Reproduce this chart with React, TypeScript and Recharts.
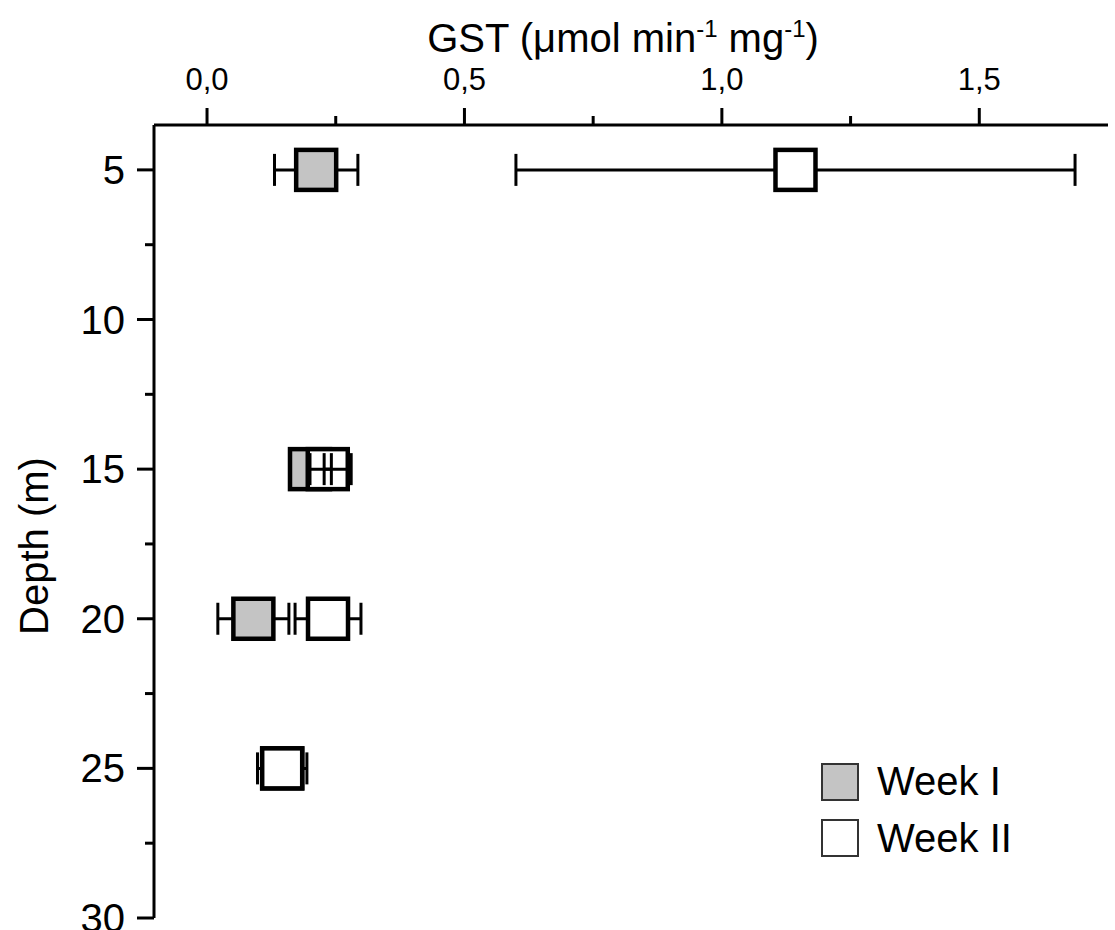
import React from "react";
import { ScatterChart, Scatter, XAxis, YAxis, ErrorBar } from "recharts";

// ---- data ----
const depths = [5, 15, 20, 25];
const week1Values = [0.212, 0.2, 0.09, 0.146];
const week1Errors = [0.081, 0.03, 0.069, 0.03];
const week2Values = [1.143, 0.2345, 0.235, 0.146];
const week2Errors = [0.543, 0.007, 0.064, 0.048];

// error bars of the 15 m pair that show through the Week II box
const overlayValues = [0.2, 0.2345];
const overlayErrors: (number | number[])[] = [[0, 0.08], 0.007];
const overlayDepths = [15, 15];

const xMajorTicks = [0, 0.5, 1, 1.5];
const xMinorTicks = [0.25, 0.75, 1.25];
const xTickLabels = ["0,0", "0,5", "1,0", "1,5"];
const yMajorTicks = [5, 10, 15, 20, 25, 30];
const yMinorTicks = [7.5, 12.5, 17.5, 22.5, 27.5];
const yTickLabels = ["5", "10", "15", "20", "25", "30"];

const seriesNames = ["Week I", "Week II"];
const seriesFills = ["#c4c4c4", "#ffffff"];

const week1Data = depths.map((d, i) => ({ y: d, x: week1Values[i], err: week1Errors[i] }));
const week2Data = depths.map((d, i) => ({ y: d, x: week2Values[i], err: week2Errors[i] }));
const overlayData = overlayDepths.map((d, i) => ({ y: d, x: overlayValues[i], err: overlayErrors[i] }));

const FONT = "'Liberation Sans', Arial, sans-serif";

const XTick = (props: any) => {
  const { x, y, payload } = props;
  const idx = xMajorTicks.indexOf(payload.value);
  const major = idx >= 0;
  return (
    <g>
      <line x1={x} x2={x} y1={y} y2={y - (major ? 17 : 9)} stroke="#000" strokeWidth={3} />
      {major && (
        <text x={x} y={y - 35} textAnchor="middle" fontFamily={FONT} fontSize={31} fill="#000">
          {xTickLabels[idx]}
        </text>
      )}
    </g>
  );
};

const YTick = (props: any) => {
  const { x, y, payload } = props;
  const idx = yMajorTicks.indexOf(payload.value);
  const major = idx >= 0;
  return (
    <g>
      <line x1={x} x2={x - (major ? 17 : 9)} y1={y} y2={y} stroke="#000" strokeWidth={3} />
      {major && (
        <text x={x - 29} y={y + 14} textAnchor="end" fontFamily={FONT} fontSize={40} fill="#000">
          {yTickLabels[idx]}
        </text>
      )}
    </g>
  );
};

const makeBox = (fill: string) => (props: any) => {
  const { cx, cy } = props;
  return <rect x={cx - 20} y={cy - 20} width={40} height={40} fill={fill} stroke="#000" strokeWidth={4.5} />;
};

const emptyShape = () => <g />;

const TitleLabel = () => (
  <text x={623} y={52} textAnchor="middle" fontFamily={FONT} fontSize={40} fill="#000">
    GST (μmol min
    <tspan dy={-15} fontSize={24}>-1</tspan>
    <tspan dy={15}> mg</tspan>
    <tspan dy={-15} fontSize={24}>-1</tspan>
    <tspan dy={15}>)</tspan>
  </text>
);

const DepthLabel = () => (
  <text
    x={48}
    y={546}
    transform="rotate(-90, 48, 546)"
    textAnchor="middle"
    fontFamily={FONT}
    fontSize={40}
    fill="#000"
  >
    Depth (m)
  </text>
);

export default function App() {
  const xTicks = [...xMajorTicks, ...xMinorTicks].sort((a, b) => a - b);
  const yTicks = [...yMajorTicks, ...yMinorTicks].sort((a, b) => a - b);
  const extra: any = { zIndex: 900 };
  return (
    <div style={{ position: "absolute", left: 0, top: 0, width: 1115, height: 930, background: "#fff" }}>
      <ScatterChart width={1115} height={930} margin={{ top: 124, right: 7, bottom: 12, left: 153 }}>
        <XAxis
          type="number"
          dataKey="x"
          orientation="top"
          domain={[-0.103, 1.75]}
          ticks={xTicks}
          allowDataOverflow
          height={1}
          tickSize={0}
          tickMargin={0}
          tickLine={false}
          tick={<XTick />}
          interval={0}
          axisLine={{ stroke: "#000", strokeWidth: 3 }}
          label={<TitleLabel />}
        />
        <YAxis
          type="number"
          dataKey="y"
          reversed
          domain={[3.5, 30]}
          ticks={yTicks}
          allowDataOverflow
          width={1}
          tickSize={0}
          tickMargin={0}
          tickLine={false}
          tick={<YTick />}
          interval={0}
          axisLine={{ stroke: "#000", strokeWidth: 3 }}
          label={<DepthLabel />}
        />
        <Scatter name={seriesNames[0]} data={week1Data} shape={makeBox(seriesFills[0])} isAnimationActive={false}>
          <ErrorBar dataKey="err" direction="x" width={16} stroke="#000" strokeWidth={3} isAnimationActive={false} />
        </Scatter>
        <Scatter name={seriesNames[1]} data={week2Data} shape={makeBox(seriesFills[1])} isAnimationActive={false}>
          <ErrorBar dataKey="err" direction="x" width={16} stroke="#000" strokeWidth={3} isAnimationActive={false} />
        </Scatter>
        <Scatter name="overlay" data={overlayData} shape={emptyShape} isAnimationActive={false} legendType="none" {...extra}>
          <ErrorBar dataKey="err" direction="x" width={16} stroke="#000" strokeWidth={3} isAnimationActive={false} {...extra} />
        </Scatter>
      </ScatterChart>
      <svg
        width={260}
        height={120}
        style={{ position: "absolute", left: 815, top: 755 }}
      >
        {seriesNames.map((name, i) => (
          <g key={name}>
            <rect x={7} y={9 + i * 56} width={36} height={36} fill={seriesFills[i]} stroke="#333" strokeWidth={2} />
            <text x={62} y={40 + i * 57} fontFamily={FONT} fontSize={40} fill="#000">
              {name}
            </text>
          </g>
        ))}
      </svg>
    </div>
  );
}
